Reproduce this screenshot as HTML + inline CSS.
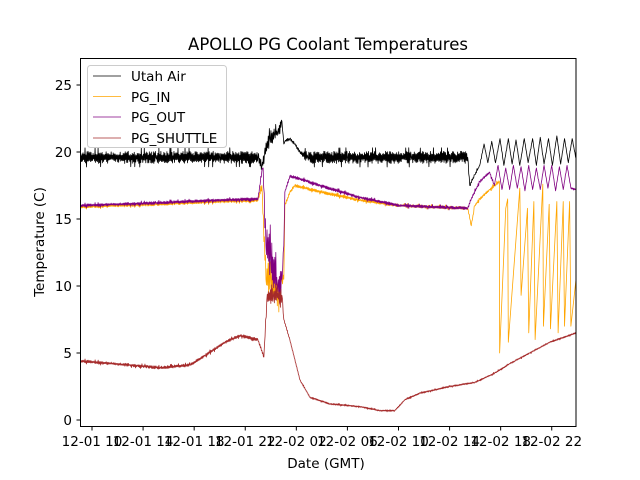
<!DOCTYPE html>
<html><head><meta charset="utf-8">
<style>
html,body{margin:0;padding:0;background:#fff;}
svg{display:block;font-family:"DejaVu Sans","Liberation Sans",sans-serif;}
</style></head>
<body>
<svg id="chart" width="640" height="480" viewBox="0 0 640 480">
<rect x="0" y="0" width="640" height="480" fill="#fff"/>
<text x="328" y="50" text-anchor="middle" font-size="16.5">APOLLO PG Coolant Temperatures</text>
<g id="series" clip-path="url(#clip)"></g>
<defs><clipPath id="clip"><rect x="80" y="58" width="496" height="369"/></clipPath></defs>
<rect x="80.5" y="58.5" width="495.5" height="368" fill="none" stroke="#000" stroke-width="1"/>
<g id="xticks"></g>
<g id="yticks"></g>
<text x="326" y="468" text-anchor="middle" font-size="13.5">Date (GMT)</text>
<text transform="translate(44,242) rotate(-90)" text-anchor="middle" font-size="13.5">Temperature (C)</text>
<g id="legend">
<rect x="87.5" y="65.5" width="139" height="82" rx="3" fill="#fff" fill-opacity="0.85" stroke="#ccc" stroke-width="1"/>
<line x1="93" y1="76" x2="121" y2="76" stroke="#000" stroke-width="0.7"/>
<text x="131" y="81" font-size="13.5">Utah Air</text>
<line x1="93" y1="96.5" x2="121" y2="96.5" stroke="orange" stroke-width="0.7"/>
<text x="131" y="102" font-size="13.5">PG_IN</text>
<line x1="93" y1="117" x2="121" y2="117" stroke="purple" stroke-width="0.7"/>
<text x="131" y="122" font-size="13.5">PG_OUT</text>
<line x1="93" y1="138" x2="121" y2="138" stroke="brown" stroke-width="0.7"/>
<text x="131" y="143" font-size="13.5">PG_SHUTTLE</text>
</g>
</svg>
<script>
// hours since 12-01 00:00 GMT
const xTickHours = [10,14,18,22,26,30,34,38,42,46];
const xTickLabels = ["12-01 10","12-01 14","12-01 18","12-01 22","12-02 02","12-02 06","12-02 10","12-02 14","12-02 18","12-02 22"];
const yTickValues = [0,5,10,15,20,25];

const airT = [9.06,15,20,23.0,23.3,23.5,23.93,24.3,24.55,24.87,25.02,25.1,25.49,25.88,26.28,26.9,30,35,39.42,39.58,39.97,40.36,40.7,41.0,41.3,41.6,41.95,42.25,42.6,42.9,43.2,43.5,43.85,44.15,44.5,44.8,45.1,45.4,45.75,46.05,46.4,46.7,47.0,47.3,47.6,47.9];
const airV = [19.6,19.6,19.6,19.6,18.9,19.8,21.0,21.3,21.5,22.3,20.6,20.8,21.0,20.6,20.0,19.6,19.6,19.6,19.6,17.5,18.3,19.0,20.6,19.2,20.8,19.2,21.0,19.0,21.0,19.1,20.9,19.0,21.0,19.2,21.0,19.0,21.1,19.1,21.0,19.0,21.2,19.1,21.0,19.2,21.0,19.5];
const airNoise = [0.4,0.4,0.4,0.4,0.3,0.5,0.5,0.4,0.4,0.2,0.1,0.1,0.1,0.1,0.1,0.4,0.4,0.4,0.4,0.1,0.1,0.05,0.05,0.05,0.05,0.05,0.05,0.05,0.05,0.05,0.05,0.05,0.05,0.05,0.05,0.05,0.05,0.05,0.05,0.05,0.05,0.05,0.05,0.05,0.05,0.05];

const inT = [9.06,15,20,23.0,23.3,23.62,24.0,24.55,24.87,25.02,25.1,25.49,25.88,28,31,34.1,39.42,39.7,39.97,40.36,41.14,41.9,41.92,42.4,42.55,42.6,43.5,43.6,44.1,44.2,44.6,44.7,45.3,45.35,45.8,45.9,46.4,46.5,46.9,47.0,47.4,47.5,47.9];
const inV = [15.9,16.1,16.3,16.4,17.5,10.5,10.5,9.5,10.5,10.5,16.0,17.0,17.5,17.0,16.4,16.0,15.8,14.5,16.0,16.5,17.2,17.8,5.0,15.8,16.5,5.8,17.3,9.3,15.8,6.5,16.3,6.0,17.6,7.0,16.1,6.8,16.3,6.5,16.3,7.0,16.3,7.0,10.5];
const inNoise = [0.1,0.1,0.1,0.1,0.3,1.0,1.2,1.0,0.8,0.5,0.1,0.1,0.1,0.1,0.1,0.1,0.1,0.1,0.1,0.1,0.1,0.1,0,0,0,0,0,0,0,0,0,0,0,0,0,0,0,0,0,0,0,0,0];

const outT = [9.06,15,20,23.0,23.3,23.4,23.62,24.0,24.55,24.87,25.02,25.1,25.49,26.28,27.84,31,34.1,39.42,39.7,40.36,41.14,41.5,41.8,42.1,42.4,42.7,43.0,43.3,43.6,43.9,44.2,44.5,44.8,45.1,45.4,45.7,46.0,46.3,46.6,46.9,47.2,47.5,47.9];
const outV = [16.0,16.2,16.4,16.5,18.6,18.8,13.0,12.0,10.0,10.5,13.0,17.0,18.2,18.0,17.5,16.6,16.0,15.8,16.5,17.8,18.5,17.5,19.0,17.2,18.8,17.2,19.0,17.3,18.9,17.1,19.0,17.2,18.8,17.2,19.0,17.3,19.0,17.1,18.9,17.2,19.0,17.3,17.2];
const outNoise = [0.1,0.1,0.1,0.1,0.2,0.2,1.4,1.4,1.0,0.8,0.5,0.1,0.1,0.1,0.1,0.1,0.1,0.1,0.1,0.1,0.1,0.05,0.05,0.05,0.05,0.05,0.05,0.05,0.05,0.05,0.05,0.05,0.05,0.05,0.05,0.05,0.05,0.05,0.05,0.05,0.05,0.05,0.05];

const shT = [9.06,12.97,15.32,17.67,18.84,20.41,21.58,22.99,23.46,23.69,24.2,24.87,25.02,25.49,26.28,27.06,28.62,30.97,32.54,33.71,34.49,35.67,38.01,39.97,41.53,42.71,44.27,45.84,47.9];
const shV = [4.4,4.1,3.9,4.1,4.8,5.8,6.3,6.0,4.7,9.0,9.3,9.3,7.5,6.0,3.0,1.7,1.2,1.0,0.7,0.7,1.5,2.0,2.5,2.8,3.5,4.2,5.0,5.8,6.5];
const shNoise = [0.1,0.1,0.1,0.1,0.1,0.1,0.1,0.1,0.1,0.5,0.5,0.5,0.1,0.05,0.05,0.05,0.05,0.05,0.05,0.05,0.05,0.05,0.05,0.05,0.05,0.05,0.05,0.05,0.05];

const NS = "http://www.w3.org/2000/svg";
const X0 = 80, X1 = 576, T0 = 9.06, T1 = 47.9;
function xScale(t){ return X0 + (t - T0) * (X1 - X0) / (T1 - T0); }
function yScale(v){ return 420 - v * 13.4; }

const xt = document.getElementById('xticks');
xTickHours.forEach((h,i)=>{
  const x = xScale(h);
  const l = document.createElementNS(NS,'line');
  l.setAttribute('x1',x);l.setAttribute('x2',x);l.setAttribute('y1',427);l.setAttribute('y2',430.5);
  l.setAttribute('stroke','#000');
  
  
  xt.appendChild(l);
  const tx = document.createElementNS(NS,'text');
  tx.setAttribute('x',x);tx.setAttribute('y',446);tx.setAttribute('text-anchor','middle');tx.setAttribute('font-size','13.5');
  tx.textContent = xTickLabels[i];
  
  
  xt.appendChild(tx);
});
const yt = document.getElementById('yticks');
yTickValues.forEach(v=>{
  const y = yScale(v);
  const l = document.createElementNS(NS,'line');
  l.setAttribute('x1',76.5);l.setAttribute('x2',80);l.setAttribute('y1',y);l.setAttribute('y2',y);
  l.setAttribute('stroke','#000');
  
  
  yt.appendChild(l);
  const tx = document.createElementNS(NS,'text');
  tx.setAttribute('x',72);tx.setAttribute('y',y+5);tx.setAttribute('text-anchor','end');tx.setAttribute('font-size','13.5');
  tx.textContent = String(v);
  
  
  yt.appendChild(tx);
});

// deterministic jitter texture (visual only)
function jit(k){ const s = Math.sin(k*12.9898)*43758.5453; return s - Math.floor(s); }
function buildPath(ts, vs, ns){
  let d = '';
  let k = 0;
  for(let i=0;i<ts.length;i++){
    const x = xScale(ts[i]), y = yScale(vs[i]);
    d += (i===0?'M':'L') + x.toFixed(2) + ' ' + y.toFixed(2) + ' ';
    if(i < ts.length-1){
      const x2 = xScale(ts[i+1]);
      const steps = Math.floor((x2 - x) / 0.5);
      for(let s=1;s<steps;s++){
        const f = s/steps;
        const v = vs[i] + (vs[i+1]-vs[i])*f;
        const a = ns[i] + (ns[i+1]-ns[i])*f;
        k++;
        const sign = (k % 2 === 0) ? 1 : -1;
        const r = jit(k);
        const amp = a * (0.3 + 0.9*r + (r > 0.93 ? 0.6 : 0));
        d += 'L' + (x + (x2-x)*f).toFixed(2) + ' ' + yScale(v + sign*amp).toFixed(2) + ' ';
      }
    }
  }
  return d;
}
const g = document.getElementById('series');
function addSeries(ts, vs, ns, color, name){
  const p = document.createElementNS(NS,'path');
  p.setAttribute('d', buildPath(ts, vs, ns));
  p.setAttribute('fill','none');
  p.setAttribute('stroke',color);
  p.setAttribute('stroke-width','0.8');
  p.setAttribute('stroke-linejoin','round');
  
  
  g.appendChild(p);
}
addSeries(airT, airV, airNoise, '#000', 'utah-air-line');
addSeries(inT, inV, inNoise, 'orange', 'pg-in-line');
addSeries(outT, outV, outNoise, 'purple', 'pg-out-line');
addSeries(shT, shV, shNoise, 'brown', 'pg-shuttle-line');
</script>
</body></html>
